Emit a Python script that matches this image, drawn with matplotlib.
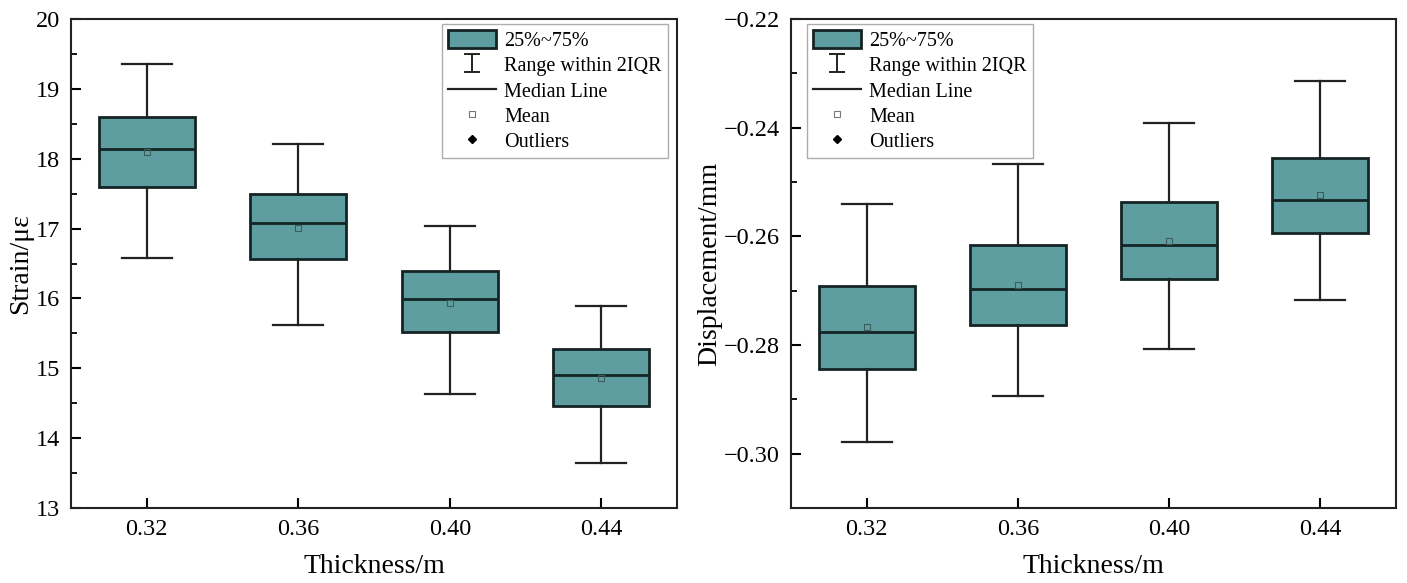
import matplotlib.pyplot as plt
from matplotlib.patches import Patch
from matplotlib.lines import Line2D
from matplotlib.path import Path
from matplotlib.ticker import MultipleLocator

plt.rcParams['font.family'] = ['Liberation Serif', 'DejaVu Serif']
plt.rcParams['mathtext.fontset'] = 'stix'

# Thickness groups
thickness = [0.32, 0.36, 0.40, 0.44]
tick_labels = ['0.32', '0.36', '0.40', '0.44']

# Strain box statistics (με)
strain_q1 = [17.60, 16.56, 15.52, 14.46]
strain_med = [18.14, 17.08, 15.99, 14.90]
strain_q3 = [18.60, 17.49, 16.39, 15.28]
strain_lo = [16.58, 15.62, 14.63, 13.64]
strain_hi = [19.36, 18.21, 17.04, 15.89]
strain_mean = [18.10, 17.01, 15.94, 14.86]

# Displacement box statistics (mm)
disp_q1 = [-0.2844, -0.2763, -0.2679, -0.2594]
disp_med = [-0.2776, -0.2697, -0.2616, -0.2533]
disp_q3 = [-0.2691, -0.2616, -0.2537, -0.2456]
disp_lo = [-0.2979, -0.2894, -0.2807, -0.2717]
disp_hi = [-0.2540, -0.2467, -0.2391, -0.2314]
disp_mean = [-0.2767, -0.2690, -0.2609, -0.2524]

box_color = '#5f9ea0'
edge_color = '#142424'


def make_stats(q1, med, q3, lo, hi, mean):
    stats = []
    for i in range(len(q1)):
        stats.append(dict(q1=q1[i], med=med[i], q3=q3[i], whislo=lo[i],
                          whishi=hi[i], mean=mean[i], fliers=[]))
    return stats


def draw_box(ax, stats):
    ax.bxp(stats, positions=thickness, widths=0.0254, patch_artist=True,
           showmeans=True, showfliers=False, manage_ticks=False,
           boxprops=dict(facecolor=box_color, edgecolor=edge_color, linewidth=2.0),
           medianprops=dict(color=edge_color, linewidth=2.0),
           whiskerprops=dict(color='#222222', linewidth=1.6),
           capprops=dict(color='#222222', linewidth=1.6),
           capwidths=0.0132,
           meanprops=dict(marker='s', markersize=4, markerfacecolor='none',
                          markeredgecolor='#3d5c5c', markeredgewidth=0.8))


# I-shaped marker for the whisker range entry
ibar = Path([(-0.9, -1), (0.9, -1), (0, -1), (0, 1), (-0.9, 1), (0.9, 1)],
            [Path.MOVETO, Path.LINETO, Path.MOVETO, Path.LINETO, Path.MOVETO, Path.LINETO])

handles = [
    Patch(facecolor=box_color, edgecolor=edge_color, linewidth=2.0, label='25%~75%'),
    Line2D([], [], linestyle='none', marker=ibar, markersize=13, color='#222222',
           markerfacecolor='none', markeredgewidth=1.4, label='Range within 2IQR'),
    Line2D([], [], color='#222222', linewidth=1.6, label='Median Line'),
    Line2D([], [], linestyle='none', marker='s', markersize=4, markerfacecolor='none',
           markeredgecolor='#777777', markeredgewidth=0.8, label='Mean'),
    Line2D([], [], linestyle='none', marker='D', markersize=4, color='k', label='Outliers'),
]

legend_kw = dict(loc='upper left', fontsize=14.5, frameon=True, fancybox=False,
                 edgecolor='#999999', handlelength=2.4, handleheight=1.0,
                 handletextpad=0.4, labelspacing=0.22, borderpad=0.3, borderaxespad=0)


def style_axes(ax):
    ax.set_xlim(0.30, 0.46)
    ax.set_xticks(thickness)
    ax.set_xticklabels(tick_labels)
    ax.tick_params(axis='both', which='both', direction='in', labelsize=17.5)
    ax.tick_params(axis='both', which='major', length=7, width=1.5, pad=8)
    ax.tick_params(axis='y', which='minor', length=4, width=1.3)
    ax.tick_params(axis='x', which='minor', bottom=False)
    for s in ax.spines.values():
        s.set_linewidth(1.5)
        s.set_color('#222222')
    ax.set_xlabel('Thickness/m', fontsize=20, labelpad=10)


fig = plt.figure(figsize=(14.07, 5.83), dpi=100)
ax1 = fig.add_axes([0.0505, 0.1286, 0.4307, 0.8388])
ax2 = fig.add_axes([0.5622, 0.1286, 0.4300, 0.8388])

draw_box(ax1, make_stats(strain_q1, strain_med, strain_q3, strain_lo, strain_hi, strain_mean))
style_axes(ax1)
ax1.set_ylim(13, 20)
ax1.yaxis.set_major_locator(MultipleLocator(1))
ax1.yaxis.set_minor_locator(MultipleLocator(0.5))
ax1.set_ylabel('Strain/με', fontsize=20, labelpad=2)
ax1.legend(handles=handles, bbox_to_anchor=(0.612, 0.99), **legend_kw)

draw_box(ax2, make_stats(disp_q1, disp_med, disp_q3, disp_lo, disp_hi, disp_mean))
style_axes(ax2)
ax2.set_ylim(-0.31, -0.22)
ax2.yaxis.set_major_locator(MultipleLocator(0.02))
ax2.yaxis.set_minor_locator(MultipleLocator(0.01))
ax2.yaxis.set_major_formatter(plt.FuncFormatter(lambda v, p: ('%.2f' % v).replace('-', '\u2212')))
ax2.set_ylabel('Displacement/mm', fontsize=20, labelpad=1)
ax2.legend(handles=handles, bbox_to_anchor=(0.026, 0.99), **legend_kw)

fig.savefig('out.png', dpi=100)
